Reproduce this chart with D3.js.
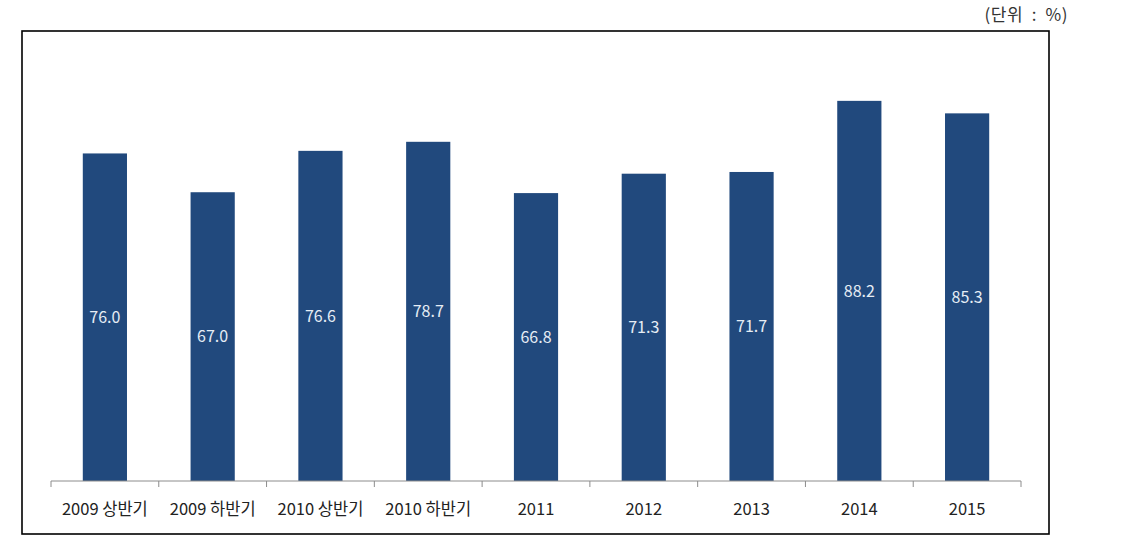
<!DOCTYPE html>
<html>
<head>
<meta charset="utf-8">
<script src="https://cdn.jsdelivr.net/npm/d3@7"></script>
<style>
  body { margin: 0; background: #fff; }
  svg { display: block; font-family: "Noto Sans CJK KR", "Noto Sans", sans-serif; }
</style>
</head>
<body>
<div id="chart"></div>
<script>
// categories and values
var categories = ["2009 상반기", "2009 하반기", "2010 상반기", "2010 하반기", "2011", "2012", "2013", "2014", "2015"];
var values = [76.0, 67.0, 76.6, 78.7, 66.8, 71.3, 71.7, 88.2, 85.3];
var unitLabel = "(단위  :  %)";

var W = 1133, H = 551;
var margin = {top: 50, left: 51, right: 112, bottom: 70};
var width = W - margin.left - margin.right,   // 970
    height = H - margin.top - margin.bottom;  // 431

var svg = d3.select("#chart").append("svg")
  .attr("width", W)
  .attr("height", H);

// outer frame
svg.append("rect")
  .attr("x", 22).attr("y", 31)
  .attr("width", 1027).attr("height", 503)
  .attr("fill", "none")
  .attr("stroke", "#000")
  .attr("stroke-width", 1.6);

// unit label top right
svg.append("text")
  .attr("x", 1068).attr("y", 15)
  .attr("dy", "0.35em")
  .attr("text-anchor", "end")
  .attr("font-size", 17)
  .attr("letter-spacing", 0.5)
  .attr("fill", "#333")
  .style("white-space", "pre")
  .attr("xml:space", "preserve")
  .text(unitLabel);

var g = svg.append("g")
  .attr("transform", "translate(" + margin.left + "," + margin.top + ")");

var x = d3.scaleBand()
  .domain(categories)
  .range([0, width])
  .paddingInner(0.59)
  .paddingOuter(0.295);

var y = d3.scaleLinear()
  .domain([0, 100])
  .range([height, 0]);

g.selectAll("rect.bar")
  .data(values)
  .enter().append("rect")
  .attr("class", "bar")
  .attr("x", function(d, i) { return x(categories[i]); })
  .attr("y", function(d) { return y(d); })
  .attr("width", x.bandwidth())
  .attr("height", function(d) { return height - y(d); })
  .attr("fill", "#21497d");

// value labels in the middle of each bar
g.selectAll("text.val")
  .data(values)
  .enter().append("text")
  .attr("class", "val")
  .attr("x", function(d, i) { return x(categories[i]) + x.bandwidth() / 2; })
  .attr("y", function(d) { return (y(d) + height) / 2; })
  .attr("dy", "0.35em")
  .attr("text-anchor", "middle")
  .attr("font-size", 16)
  .attr("fill", "#e6edf5")
  .text(function(d) { return d.toFixed(1); });

// x axis with ticks between the categories
var axis = g.append("g")
  .attr("transform", "translate(0," + height + ")");

axis.append("line")
  .attr("x1", 0).attr("x2", width)
  .attr("stroke", "#8c8c8c")
  .attr("stroke-width", 1);

var step = x.step();
axis.selectAll("line.tick")
  .data(d3.range(categories.length + 1))
  .enter().append("line")
  .attr("class", "tick")
  .attr("x1", function(i) { return i * step; })
  .attr("x2", function(i) { return i * step; })
  .attr("y1", 0).attr("y2", 6)
  .attr("stroke", "#8c8c8c");

axis.selectAll("text.cat")
  .data(categories)
  .enter().append("text")
  .attr("class", "cat")
  .attr("x", function(d) { return x(d) + x.bandwidth() / 2; })
  .attr("y", 28)
  .attr("dy", "0.35em")
  .attr("text-anchor", "middle")
  .attr("font-size", 16.5)
  .attr("fill", "#222")
  .text(function(d) { return d; });
</script>
</body>
</html>
